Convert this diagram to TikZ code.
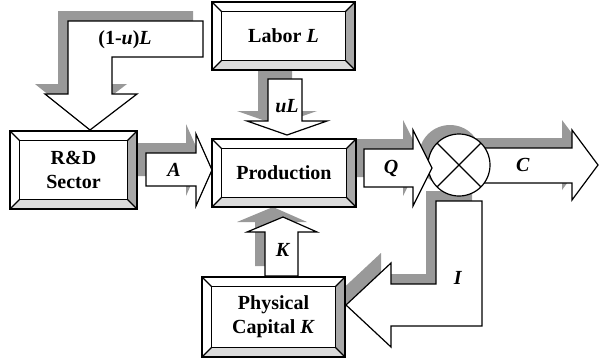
\documentclass[tikz,border=0pt]{standalone}
\usepackage{fontspec}
\setmainfont{Liberation Serif}
\usetikzlibrary{calc}
\definecolor{shadowgray}{gray}{0.6}
\definecolor{bevelright}{gray}{0.66}
\definecolor{bevelbottom}{gray}{0.86}
\newcommand{\bw}{9.5}
% framed box with a bevelled edge: name, x1, y1, x2, y2, text
\newcommand{\bevelbox}[6]{%
  \fill[white] (#2,#3) rectangle (#4,#5);
  \fill[bevelright] (#4,#3) -- (#4,#5) -- ({#4-\bw},{#5-\bw}) -- ({#4-\bw},{#3+\bw}) -- cycle;
  \fill[bevelbottom] (#2,#5) -- (#4,#5) -- ({#4-\bw},{#5-\bw}) -- ({#2+\bw},{#5-\bw}) -- cycle;
  \draw (#2,#3) rectangle (#4,#5);
  \draw ({#2+\bw},{#3+\bw}) rectangle ({#4-\bw},{#5-\bw});
  \draw (#2,#3) -- ++(\bw,\bw) (#4,#3) -- ++(-\bw,\bw) (#2,#5) -- ++(\bw,-\bw) (#4,#5) -- ++(-\bw,-\bw);
  \node[boxtext] (#1) at ({(#2+#4)/2},{(#3+#5)/2}) {#6};
}

\begin{document}
\begin{tikzpicture}[x=1pt,y=-1pt,line width=1.2pt,line join=miter,
    boxtext/.style={font=\bfseries\fontsize{20}{24}\selectfont,align=center,inner sep=0pt},
    flowlabel/.style={font=\bfseries\fontsize{20}{24}\selectfont,inner sep=0pt},
    fatbody/.style={fill=white,draw=black},
    fatshadow/.style={fill=shadowgray,shift={(-10,-10)}}]
  \useasboundingbox (0,0) rectangle (599,362);
  % outlines of the fat arrows
  \def\pathRD{(68,21) -- (203,21) -- (203,57) -- (112,57) -- (112,94) -- (137,94) -- (90,130) -- (45,94) -- (68,94) -- cycle}
  \def\pathuL{(268,79) -- (302,79) -- (302,121) -- (327,121) -- (287,135) -- (247,121) -- (268,121) -- cycle}
  \def\pathA{(146,153) -- (196,153) -- (196,134) -- (212,170) -- (196,206) -- (196,186) -- (146,186) -- cycle}
  \def\pathQ{(364,149) -- (413,149) -- (413,130) -- (432,168) -- (413,206) -- (413,187) -- (364,187) -- cycle}
  \def\pathC{(482,148) -- (572,148) -- (572,130) -- (598,165) -- (572,200) -- (572,183) -- (482,183) -- cycle}
  \def\pathK{(265,276) -- (298,276) -- (298,232) -- (317,232) -- (283,217) -- (247,232) -- (265,232) -- cycle}
  \def\pathI{(436,201) -- (482,201) -- (482,326) -- (391,326) -- (391,347) -- (346,305) -- (391,263) -- (391,284) -- (436,284) -- cycle}
  % shadows first
  \foreach \p in {\pathRD,\pathuL,\pathA,\pathQ,\pathC,\pathK,\pathI} \fill[fatshadow] \p;
  \fill[shadowgray] (450,156) circle (31pt);
  % arrow bodies
  \foreach \p in {\pathRD,\pathuL,\pathA,\pathK,\pathI,\pathC} \path[fatbody] \p;
  % summing junction
  \filldraw[fill=white] (459,165) coordinate (sum) circle (31pt);
  \draw (sum) ++(-21.9,-21.9) -- ++(43.8,43.8);
  \draw (sum) ++(21.9,-21.9) -- ++(-43.8,43.8);
  \path[fatbody] \pathQ;
  % the four boxes
  \bevelbox{lab}{212}{2}{355}{70}{Labor \textit{L}}
  \bevelbox{prod}{212}{139}{356}{207}{Production}
  \bevelbox{rd}{10}{131}{137}{209}{R\&D\\Sector}
  \bevelbox{cap}{202}{277}{345}{357}{Physical\\Capital \textit{K}}
  % flow labels
  \node[flowlabel] (lrd) at (125,40) {(1-\textit{u})\textit{L}};
  \node[flowlabel] (lul) at (287,106) {\textit{uL}};
  \node[flowlabel] (la) at (174,170) {\textit{A}};
  \node[flowlabel] (lq) at (391,168) {\textit{Q}};
  \node[flowlabel] (lc) at (523,165) {\textit{C}};
  \node[flowlabel] (lk) at (283,250) {\textit{K}};
  \node[flowlabel] (li) at (458,278) {\textit{I}};
\end{tikzpicture}
\end{document}
